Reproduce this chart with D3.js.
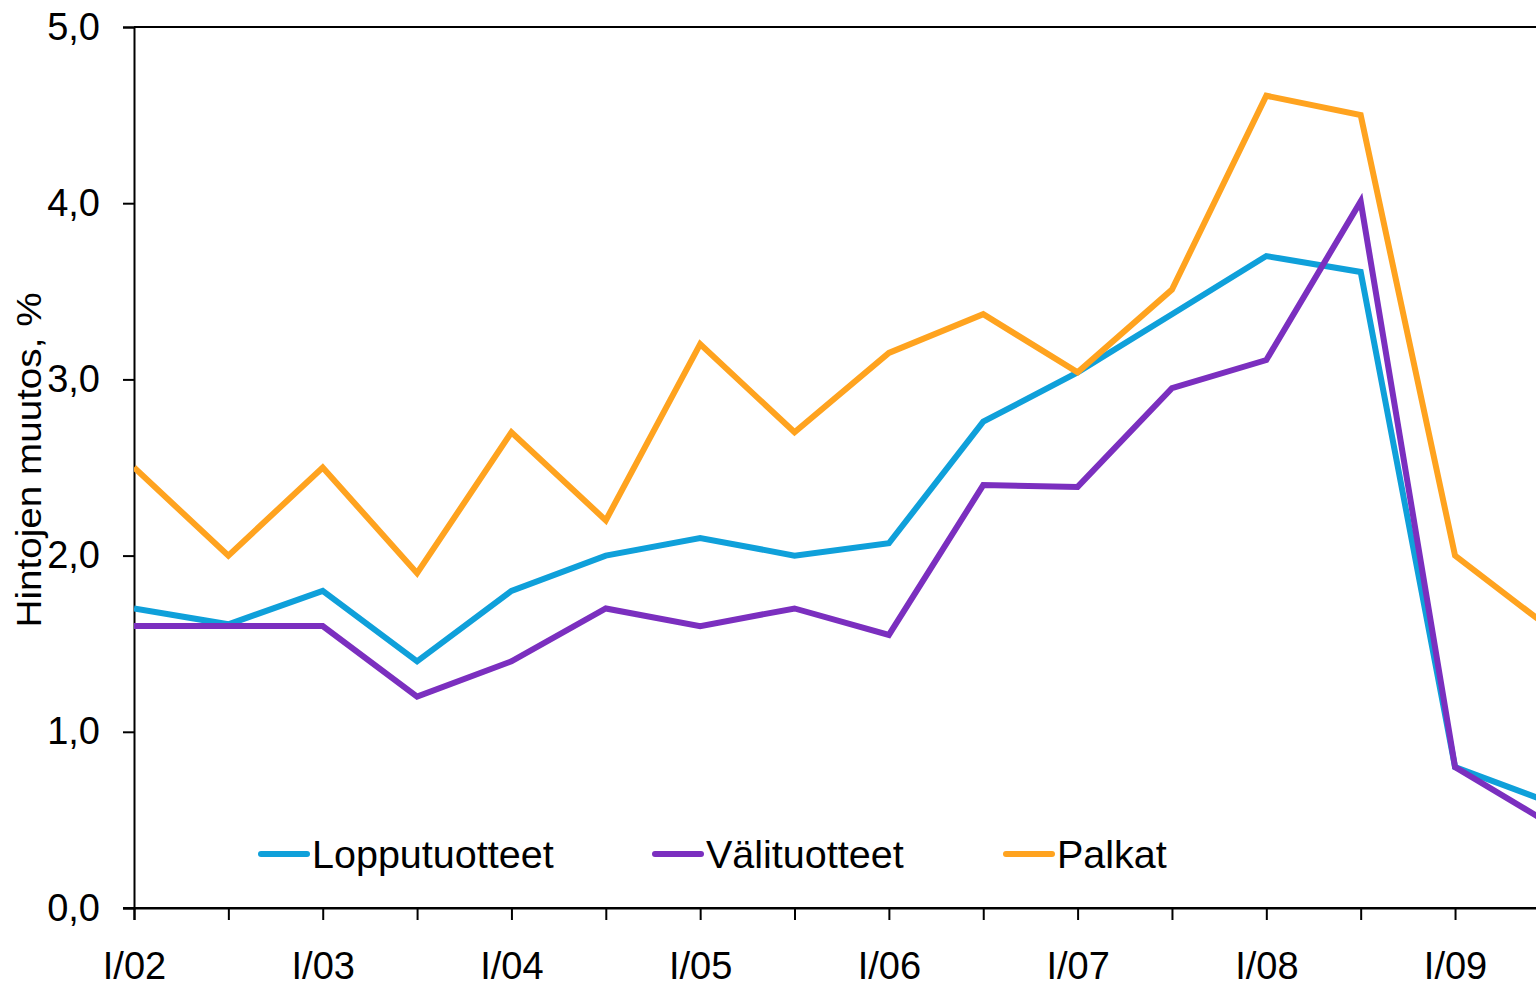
<!DOCTYPE html>
<html>
<head>
<meta charset="utf-8">
<script src="https://cdn.jsdelivr.net/npm/d3@7"></script>
<style>
  html, body { margin: 0; padding: 0; background: #fff; overflow: hidden; }
  svg { display: block; font-family: "Liberation Sans", Arial, sans-serif; }
</style>
</head>
<body>
<script>
// half-year periods, labels only on the first half of each year
const periods = ['I/02', 'II/02', 'I/03', 'II/03', 'I/04', 'II/04', 'I/05', 'II/05',
  'I/06', 'II/06', 'I/07', 'II/07', 'I/08', 'II/08', 'I/09', 'II/09'];
const lopputuotteet = [1.70, 1.61, 1.80, 1.40, 1.80, 2.00, 2.10, 2.00, 2.07, 2.76, 3.04, 3.37, 3.70, 3.61, 0.80, 0.60];
const valituotteet  = [1.60, 1.60, 1.60, 1.20, 1.40, 1.70, 1.60, 1.70, 1.55, 2.40, 2.39, 2.95, 3.11, 4.01, 0.80, 0.48];
const palkat        = [2.50, 2.00, 2.50, 1.90, 2.70, 2.20, 3.20, 2.70, 3.15, 3.37, 3.04, 3.51, 4.61, 4.50, 2.00, 1.59];
const yTicks = [0, 1, 2, 3, 4, 5];

const series = [
  { name: 'Lopputuotteet', values: lopputuotteet, color: '#0fa0da' },
  { name: 'Välituotteet', values: valituotteet, color: '#7b2fbf' },
  { name: 'Palkat', values: palkat, color: '#ffa31f' }
];

let width = 1536, height = 983;
let margin = { left: 134, top: 27, bottom: 908 };
let step = 94.36;   //distance between two half-year ticks

let svg = d3.select('body').append('svg')
  .attr('width', width)
  .attr('height', height);

let x = d3.scalePoint()
  .domain(periods)
  .range([margin.left, margin.left + step * (periods.length - 1)]);

let y = d3.scaleLinear()
  .domain([0, 5])
  .range([margin.bottom, margin.top]);

const fi = d3.formatLocale({ decimal: ',', thousands: ' ', grouping: [3], currency: ['', '€'] });
const fmt = fi.format('.1f');

svg.append('defs').append('clipPath').attr('id', 'plot')
  .append('rect')
  .attr('x', margin.left).attr('y', 0)
  .attr('width', width - margin.left).attr('height', margin.bottom);

// top frame line
svg.append('line')
  .attr('x1', margin.left).attr('x2', width)
  .attr('y1', y(5)).attr('y2', y(5))
  .attr('stroke', '#000').attr('stroke-width', 2);

// y axis
let yAxis = svg.append('g')
  .attr('transform', 'translate(' + margin.left + ',0)')
  .call(d3.axisLeft(y).tickValues(yTicks).tickFormat(fmt).tickSize(11).tickPadding(23));
yAxis.selectAll('text').style('font-size', '38px').attr('fill', '#000');

// x axis
let xAxis = svg.append('g')
  .attr('transform', 'translate(0,' + margin.bottom + ')')
  .call(d3.axisBottom(x).tickSize(12).tickPadding(32)
    .tickFormat(function(d) { return d.startsWith('I/') ? d : ''; }));
xAxis.selectAll('text').style('font-size', '38px').attr('fill', '#000');

svg.selectAll('.domain').attr('stroke', '#000').attr('stroke-width', 2);
svg.selectAll('.tick line').attr('stroke', '#000').attr('stroke-width', 2);

// extend bottom axis to the left tick
svg.append('line')
  .attr('x1', margin.left - 11).attr('x2', width)
  .attr('y1', margin.bottom).attr('y2', margin.bottom)
  .attr('stroke', '#000').attr('stroke-width', 2);

let line = d3.line()
  .x(function(d, i) { return x(periods[i]); })
  .y(function(d) { return y(d); });

svg.append('g').attr('clip-path', 'url(#plot)')
  .selectAll('path')
  .data(series)
  .enter().append('path')
  .attr('d', function(d) { return line(d.values); })
  .attr('fill', 'none')
  .attr('stroke', function(d) { return d.color; })
  .attr('stroke-width', 6);

// y axis title
svg.append('text')
  .attr('transform', 'translate(41,460) rotate(-90)')
  .attr('text-anchor', 'middle')
  .attr('textLength', 335)
  .attr('lengthAdjust', 'spacingAndGlyphs')
  .style('font-size', '35px')
  .text('Hintojen muutos, %');

// legend
let legendX = [259, 653, 1004];
let legend = svg.selectAll('g.legend')
  .data(series)
  .enter().append('g')
  .attr('class', 'legend')
  .attr('transform', function(d, i) { return 'translate(' + legendX[i] + ',854)'; });

legend.append('line')
  .attr('x1', 2).attr('x2', 48)
  .attr('stroke', function(d) { return d.color; })
  .attr('stroke-width', 6)
  .attr('stroke-linecap', 'round');

legend.append('text')
  .attr('x', 53).attr('y', 14)
  .style('font-size', '39.5px')
  .text(function(d) { return d.name; });
</script>
</body>
</html>
